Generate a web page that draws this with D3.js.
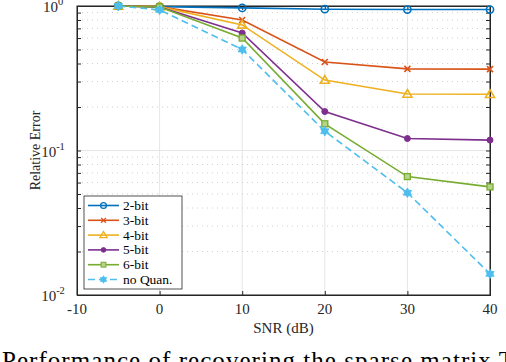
<!DOCTYPE html>
<html><head><meta charset="utf-8">
<script src="https://cdn.jsdelivr.net/npm/d3@7"></script>
<style>body{margin:0;background:#fff}svg{display:block}text{font-family:"Liberation Serif","DejaVu Serif","Times New Roman",serif}</style>
</head><body><svg id="c" width="506" height="362"></svg>
<script>
const snr = [-5, 0, 10, 20, 30, 40];
const xTicks = [-10, 0, 10, 20, 30, 40];
const yTicks = [1e-2, 1e-1, 1];
const yTickLabels = ["-2", "-1", "0"];
const seriesNames = ["2-bit", "3-bit", "4-bit", "5-bit", "6-bit", "no Quan."];
const bit2 = [1.0, 0.99, 0.97, 0.95, 0.945, 0.945];
const bit3 = [1.0, 0.99, 0.80, 0.41, 0.367, 0.366];
const bit4 = [1.0, 0.99, 0.74, 0.307, 0.246, 0.245];
const bit5 = [1.0, 0.985, 0.65, 0.186, 0.121, 0.118];
const bit6 = [1.0, 0.985, 0.60, 0.153, 0.066, 0.056];
const noQuan = [1.0, 0.94, 0.50, 0.136, 0.051, 0.014];
const colors = ["#0072BD", "#D95319", "#EDB120", "#7E2F8E", "#77AC30", "#4DBEEE"];
const markers = ["circle", "x", "triangle", "dot", "square", "hexagram"];
const allSeries = [bit2, bit3, bit4, bit5, bit6, noQuan];

const svg = d3.select("#c");
const L = 77, R = 490, T = 6, B = 295;
const x = d3.scaleLinear().domain([-10, 40]).range([L, R]);
const y = d3.scaleLog().domain([1e-2, 1]).range([B, T]);

// grid
const g = svg.append("g");
xTicks.forEach(t => g.append("line").attr("x1", x(t)).attr("x2", x(t)).attr("y1", T).attr("y2", B)
  .attr("stroke", "#e6e6e6").attr("stroke-width", 1));
yTicks.forEach(t => g.append("line").attr("x1", L).attr("x2", R).attr("y1", y(t)).attr("y2", y(t))
  .attr("stroke", "#e6e6e6").attr("stroke-width", 1));
const minor = [];
[1e-2, 1e-1].forEach(d => { for (let k = 2; k <= 9; k++) minor.push(d * k); });
minor.forEach(t => g.append("line").attr("x1", L).attr("x2", R).attr("y1", y(t)).attr("y2", y(t))
  .attr("stroke", "#d0d0d0").attr("stroke-width", 1).attr("stroke-dasharray", "1,4"));

// axes box
const axCol = "#262626";
svg.append("rect").attr("x", L).attr("y", T).attr("width", R - L).attr("height", B - T)
  .attr("fill", "none").attr("stroke", axCol).attr("stroke-width", 1);
const axB = d3.axisBottom(x).tickValues(xTicks).tickSize(-4).tickFormat("");
const axT = d3.axisTop(x).tickValues(xTicks).tickSize(-4).tickFormat("");
const axLt = d3.axisLeft(y).tickValues(yTicks.concat(minor)).tickSize(-4).tickFormat("");
const axRt = d3.axisRight(y).tickValues(yTicks.concat(minor)).tickSize(-4).tickFormat("");
[[axB, `translate(0,${B})`], [axT, `translate(0,${T})`], [axLt, `translate(${L},0)`], [axRt, `translate(${R},0)`]]
  .forEach(([a, tr]) => {
    const gg = svg.append("g").attr("transform", tr).call(a);
    gg.select(".domain").attr("stroke", axCol);
    gg.selectAll(".tick line").attr("stroke", axCol);
  });

// tick labels
xTicks.forEach(t => svg.append("text").attr("x", x(t)).attr("y", B + 19).attr("text-anchor", "middle")
  .attr("font-size", 15).attr("fill", "#262626").text(t));
yTicks.forEach((t, i) => {
  const tx = svg.append("text").attr("x", L - 24).attr("y", y(t) + 6).attr("text-anchor", "middle")
    .attr("font-size", 15).attr("fill", "#262626");
  tx.append("tspan").text("10");
  tx.append("tspan").attr("dy", -7).attr("font-size", 10.5).text(yTickLabels[i]);
});
svg.append("text").attr("x", x(15)).attr("y", 333).attr("text-anchor", "middle")
  .attr("font-size", 15).attr("fill", "#262626").text("SNR (dB)");
svg.append("text").attr("transform", `translate(40,${(T + B) / 2}) rotate(-90)`).attr("text-anchor", "middle")
  .attr("font-size", 14).attr("fill", "#262626").text("Relative Error");

// caption
svg.append("text").attr("x", 2).attr("y", 369).attr("font-size", 25).attr("fill", "#000")
  .attr("textLength", 512).attr("lengthAdjust", "spacing").text("Performance of recovering the sparse matrix T");

function hexagram(s) {
  const r = s, pts1 = [], pts2 = [];
  for (let k = 0; k < 3; k++) {
    const a1 = -Math.PI / 2 + k * 2 * Math.PI / 3, a2 = Math.PI / 2 + k * 2 * Math.PI / 3;
    pts1.push([r * Math.cos(a1), r * Math.sin(a1)]);
    pts2.push([r * Math.cos(a2), r * Math.sin(a2)]);
  }
  return "M" + pts1.join("L") + "Z M" + pts2.join("L") + "Z";
}
function drawMarker(sel, type, col, cx, cy, sc) {
  const m = sel.append("g").attr("transform", `translate(${cx},${cy}) scale(${sc || 1})`);
  if (type === "circle") m.append("circle").attr("r", 3.6).attr("fill", "none").attr("stroke", col).attr("stroke-width", 1.6);
  else if (type === "x") m.append("path").attr("d", "M-3,-3L3,3M-3,3L3,-3").attr("stroke", col).attr("stroke-width", 1.6);
  else if (type === "triangle") m.append("path").attr("d", "M0,-4.5L4.5,3.2L-4.5,3.2Z").attr("fill", "none").attr("stroke", col).attr("stroke-width", 1.6);
  else if (type === "dot") m.append("circle").attr("r", 3).attr("fill", col).attr("stroke", col);
  else if (type === "square") m.append("rect").attr("x", -3).attr("y", -3).attr("width", 6).attr("height", 6).attr("fill", "#b5d48a").attr("stroke", col).attr("stroke-width", 1.3);
  else if (type === "hexagram") m.append("path").attr("d", hexagram(4.8)).attr("fill", col).attr("stroke", col).attr("stroke-width", 0.8);
}

const line = d3.line().x((d, i) => x(snr[i])).y(d => y(d));
allSeries.forEach((s, k) => {
  svg.append("path").datum(s).attr("d", line).attr("fill", "none").attr("stroke", colors[k])
    .attr("stroke-width", 1.6).attr("stroke-dasharray", k === 5 ? "7,4" : null);
  s.forEach((v, i) => drawMarker(svg, markers[k], colors[k], x(snr[i]), y(v)));
});

// legend
const lg = svg.append("g");
lg.append("rect").attr("x", 84).attr("y", 196).attr("width", 98).attr("height", 93)
  .attr("fill", "#fff").attr("stroke", axCol).attr("stroke-width", 0.8);
seriesNames.forEach((n, k) => {
  const yy = 205.5 + k * 14.8;
  lg.append("line").attr("x1", 88).attr("x2", 119).attr("y1", yy).attr("y2", yy).attr("stroke", colors[k])
    .attr("stroke-width", 1.6).attr("stroke-dasharray", k === 5 ? "7,4" : null);
  drawMarker(lg, markers[k], colors[k], 103.5, yy, 0.8);
  lg.append("text").attr("x", 123).attr("y", yy + 4.5).attr("font-size", 13.5).attr("fill", "#000").text(n);
});
</script></body></html>
